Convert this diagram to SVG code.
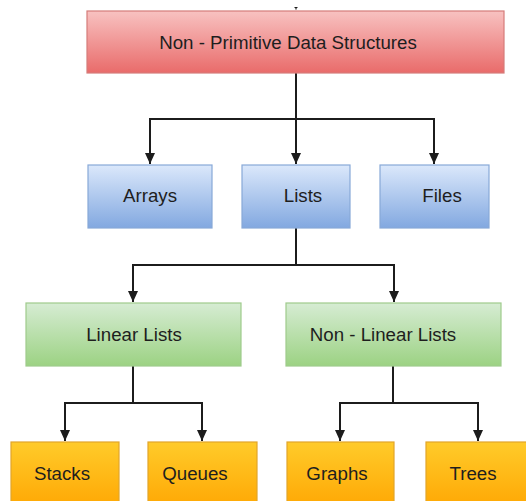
<svg xmlns="http://www.w3.org/2000/svg" width="526" height="501" viewBox="0 0 526 501">
  <style>
    .node rect { stroke-width: 1.2; }
    .label { font-family: "Liberation Sans", Arial, sans-serif; font-size: 18.7px; fill: #1e1e1e; text-anchor: middle; }
    .red rect { fill: url(#gRed); stroke: #d57c7a; }
    .blue rect { fill: url(#gBlue); stroke: #88a9d8; }
    .green rect { fill: url(#gGreen); stroke: #9fcb8c; }
    .orange rect { fill: url(#gOrange); stroke: #e2a52a; }
    #connectors path { fill: none; stroke: #1c1c1c; stroke-width: 2; }
  </style>
  <defs>
    <linearGradient id="gRed" x1="0" y1="0" x2="0" y2="1">
      <stop offset="0" stop-color="#f8c2c1"/>
      <stop offset="1" stop-color="#e96b6a"/>
    </linearGradient>
    <linearGradient id="gBlue" x1="0" y1="0" x2="0" y2="1">
      <stop offset="0" stop-color="#dbe8fb"/>
      <stop offset="1" stop-color="#82a8e0"/>
    </linearGradient>
    <linearGradient id="gGreen" x1="0" y1="0" x2="0" y2="1">
      <stop offset="0" stop-color="#d6ecd3"/>
      <stop offset="1" stop-color="#9cd283"/>
    </linearGradient>
    <linearGradient id="gOrange" x1="0" y1="0" x2="0" y2="1">
      <stop offset="0" stop-color="#ffcb2a"/>
      <stop offset="1" stop-color="#ffa400"/>
    </linearGradient>
    <marker id="arrow" viewBox="0 0 11 10" refX="11" refY="5" markerWidth="11" markerHeight="10" markerUnits="userSpaceOnUse" orient="auto">
      <path d="M0,0 L11,5 L0,10 z" fill="#1c1c1c"/>
    </marker>
  </defs>

  <rect width="526" height="501" fill="#ffffff"/>

  <!-- connectors -->
  <g id="connectors">
    <path d="M294.5,7.5 H297.5 M296,7.5 V9.5" style="stroke-width:1.2"/>
    <path d="M296,73 V164" marker-end="url(#arrow)"/>
    <path d="M296,119 H150 V164" marker-end="url(#arrow)"/>
    <path d="M296,119 H434 V164" marker-end="url(#arrow)"/>
    <path d="M296,228 V265 H133 V302" marker-end="url(#arrow)"/>
    <path d="M296,265 H394 V302" marker-end="url(#arrow)"/>
    <path d="M133,366 V403 H65 V441" marker-end="url(#arrow)"/>
    <path d="M133,403 H202 V441" marker-end="url(#arrow)"/>
    <path d="M393,366 V403 H340 V441" marker-end="url(#arrow)"/>
    <path d="M393,403 H478 V441" marker-end="url(#arrow)"/>
  </g>

  <!-- root -->
  <g id="non-primitive" class="node red">
    <rect x="87" y="11" width="417" height="62"/>
    <text class="label" x="288" y="48.5">Non - Primitive Data Structures</text>
  </g>

  <!-- second level -->
  <g id="arrays" class="node blue">
    <rect x="88" y="165" width="124" height="63"/>
    <text class="label" x="150" y="202">Arrays</text>
  </g>
  <g id="lists" class="node blue">
    <rect x="242" y="165" width="108" height="63"/>
    <text class="label" x="303" y="202">Lists</text>
  </g>
  <g id="files" class="node blue">
    <rect x="380" y="165" width="109" height="63"/>
    <text class="label" x="442" y="202">Files</text>
  </g>

  <!-- third level -->
  <g id="linear-lists" class="node green">
    <rect x="26" y="303" width="215" height="63"/>
    <text class="label" x="134" y="340.5">Linear Lists</text>
  </g>
  <g id="non-linear-lists" class="node green">
    <rect x="286" y="303" width="215" height="63"/>
    <text class="label" x="383" y="340.5">Non - Linear Lists</text>
  </g>

  <!-- leaves -->
  <g id="stacks" class="node orange">
    <rect x="11" y="442" width="108" height="72"/>
    <text class="label" x="62" y="480">Stacks</text>
  </g>
  <g id="queues" class="node orange">
    <rect x="148" y="442" width="109" height="72"/>
    <text class="label" x="195" y="480">Queues</text>
  </g>
  <g id="graphs" class="node orange">
    <rect x="287" y="442" width="107" height="72"/>
    <text class="label" x="337" y="480">Graphs</text>
  </g>
  <g id="trees" class="node orange">
    <rect x="426" y="442" width="110" height="72"/>
    <text class="label" x="473" y="480">Trees</text>
  </g>
</svg>
